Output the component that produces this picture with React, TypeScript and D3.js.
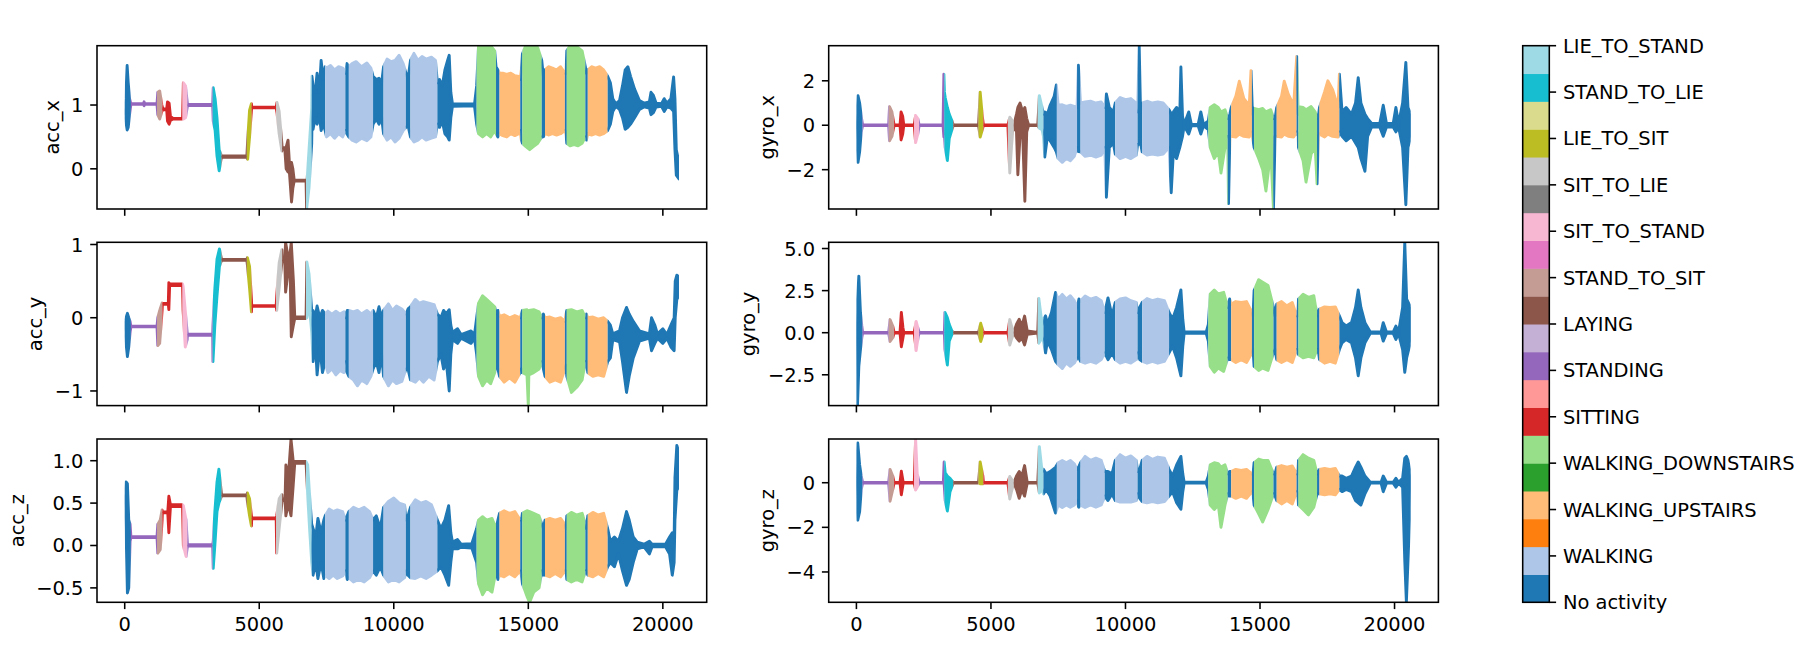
import React from 'react';
import * as d3 from 'd3';

// activity labels, index = label id
const activityNames = [
  'No activity', 'WALKING', 'WALKING_UPSTAIRS', 'WALKING_DOWNSTAIRS', 'SITTING', 'STANDING', 'LAYING',
  'STAND_TO_SIT', 'SIT_TO_STAND', 'SIT_TO_LIE', 'LIE_TO_SIT', 'STAND_TO_LIE', 'LIE_TO_STAND',
];

const tab20 = [
  '#1f77b4', '#aec7e8', '#ff7f0e', '#ffbb78', '#2ca02c', '#98df8a', '#d62728', '#ff9896', '#9467bd', '#c5b0d5',
  '#8c564b', '#c49c94', '#e377c2', '#f7b6d2', '#7f7f7f', '#c7c7c7', '#bcbd22', '#dbdb8d', '#17becf', '#9edae5',
];

// labelled segments of the recording (sample index where each starts)
const segStarts = [0, 230, 1200, 1400, 2150, 2330, 3270, 3600, 4540, 4720, 5630, 5850, 6740, 6950, 7450, 8200, 8330,
  9230, 9620, 10450, 10620, 11620, 13080, 13800, 13930, 14700, 14780, 15500, 15620, 16360, 16430, 17120, 17210, 17950];
const segLabels = [0, 5, 7, 4, 8, 5, 11, 6, 10, 4, 9, 6, 12, 0, 1, 0, 1, 0, 1, 0, 1, 0, 3, 0, 2, 0, 3, 0, 2, 0, 3, 0, 2, 0];
const nSamples = 20600;

// signal envelopes: [sample, low, high]
const accX = [
  [0, 0.86, 0.92], [40, 0.75, 1.1], [90, 0.61, 1.62], [130, 0.65, 1.35], [180, 0.85, 1.1], [230, 1.01, 1.02],
  [700, 1.01, 1.02], [720, 0.99, 1.05], [740, 1.01, 1.02], [1200, 1.01, 1.02], [1230, 0.85, 1.2], [1300, 0.78, 1.22],
  [1380, 0.9, 1.0], [1420, 0.925, 0.94], [1560, 0.925, 0.94], [1590, 0.75, 1.05], [1650, 0.7, 1.03], [1700, 0.76, 0.82],
  [1800, 0.78, 0.79], [2150, 0.78, 0.79], [2180, 0.78, 1.35], [2260, 0.8, 1.3], [2330, 0.99, 1.01], [3270, 0.99, 1.01],
  [3290, 0.75, 1.27], [3360, 0.6, 1.1], [3430, 0.2, 0.8], [3510, -0.03, 0.3], [3580, 0.15, 0.22], [3600, 0.18, 0.2],
  [4540, 0.18, 0.2], [4570, 0.15, 0.45], [4640, 0.5, 0.92], [4710, 0.92, 1.02], [4720, 0.955, 0.965],
  [5630, 0.955, 0.965], [5660, 0.88, 1.04], [5740, 0.55, 0.9], [5840, 0.28, 0.4], [5850, 0.31, 0.33],
  [5950, 0.31, 0.33], [6000, 0.0, 0.34], [6070, -0.05, 0.45], [6120, -0.05, 0.1], [6200, -0.52, 0.1],
  [6250, -0.3, 0.0], [6300, -0.19, -0.18], [6740, -0.19, -0.18], [6760, -0.63, -0.3], [6850, -0.3, 0.3],
  [6950, 0.4, 0.95], [6960, 0.7, 1.45], [7000, 0.62, 1.3], [7080, 0.8, 1.2], [7150, 0.7, 1.5], [7230, 0.85, 1.2],
  [7300, 0.6, 1.7], [7380, 0.7, 1.4], [7450, 0.6, 1.6], [7500, 0.5, 1.58], [7650, 0.55, 1.62], [7800, 0.48, 1.55],
  [7950, 0.55, 1.6], [8100, 0.5, 1.58], [8200, 0.6, 1.5], [8260, 0.55, 1.65], [8330, 0.5, 1.6], [8450, 0.45, 1.65],
  [8600, 0.42, 1.68], [8800, 0.48, 1.6], [9000, 0.44, 1.66], [9150, 0.5, 1.58], [9230, 0.7, 1.45], [9350, 0.78, 1.4],
  [9450, 0.7, 1.42], [9550, 0.8, 1.35], [9620, 0.55, 1.6], [9750, 0.45, 1.72], [9900, 0.5, 1.68], [10050, 0.42, 1.7],
  [10200, 0.48, 1.78], [10350, 0.6, 1.65], [10450, 0.65, 1.5], [10530, 0.68, 1.41], [10620, 0.5, 1.7],
  [10750, 0.42, 1.81], [10900, 0.45, 1.7], [11050, 0.5, 1.76], [11200, 0.45, 1.72], [11400, 0.48, 1.75],
  [11550, 0.5, 1.7], [11620, 0.7, 1.35], [11700, 0.65, 1.4], [11800, 0.75, 1.3], [11900, 0.55, 1.55],
  [12000, 0.5, 1.7], [12060, 0.45, 1.78], [12120, 0.8, 1.2], [12180, 0.98, 1.02], [12600, 0.985, 1.015],
  [13000, 0.985, 1.015], [13080, 0.7, 1.3], [13150, 0.55, 1.93], [13300, 0.5, 1.93], [13450, 0.55, 1.9],
  [13600, 0.5, 1.93], [13750, 0.6, 1.85], [13800, 0.55, 1.6], [13870, 0.5, 1.55], [13930, 0.55, 1.5],
  [14050, 0.52, 1.5], [14200, 0.5, 1.48], [14350, 0.55, 1.5], [14500, 0.52, 1.46], [14650, 0.55, 1.45],
  [14700, 0.6, 1.4], [14740, 0.45, 1.55], [14780, 0.4, 1.8], [14900, 0.35, 1.93], [15050, 0.3, 1.93],
  [15200, 0.35, 1.93], [15350, 0.4, 1.9], [15500, 0.5, 1.7], [15560, 0.5, 1.45], [15620, 0.55, 1.55],
  [15750, 0.53, 1.6], [15900, 0.55, 1.58], [16050, 0.53, 1.55], [16200, 0.55, 1.6], [16360, 0.6, 1.5],
  [16400, 0.55, 1.5], [16430, 0.4, 1.85], [16550, 0.36, 1.93], [16700, 0.38, 1.93], [16850, 0.36, 1.9],
  [17000, 0.4, 1.85], [17120, 0.5, 1.6], [17160, 0.45, 1.5], [17210, 0.55, 1.55], [17350, 0.53, 1.6],
  [17500, 0.55, 1.58], [17650, 0.53, 1.6], [17800, 0.55, 1.55], [17950, 0.6, 1.45], [18050, 0.7, 1.35],
  [18140, 0.9, 1.1], [18250, 0.98, 1.02], [18390, 0.93, 1.07], [18500, 0.8, 1.3], [18600, 0.62, 1.55],
  [18700, 0.65, 1.6], [18800, 0.7, 1.45], [18950, 0.8, 1.25], [19130, 0.93, 1.07], [19300, 0.97, 1.03],
  [19500, 0.95, 1.05], [19560, 0.85, 1.2], [19650, 0.88, 1.15], [19750, 0.97, 1.03], [19950, 0.98, 1.02],
  [20050, 0.9, 1.1], [20150, 0.97, 1.03], [20300, 0.95, 1.1], [20400, 0.9, 1.44], [20450, 0.3, 1.1],
  [20500, -0.1, 0.3], [20600, -0.16, 0.1],
];

const accY = [
  [0, -0.15, -0.05], [50, -0.35, 0.0], [100, -0.53, 0.06], [150, -0.4, 0.0], [200, -0.2, -0.05],
  [230, -0.125, -0.115], [1200, -0.125, -0.115], [1230, -0.38, 0.0], [1300, -0.35, 0.1], [1390, 0.1, 0.2],
  [1400, 0.185, 0.195], [1620, 0.185, 0.195], [1640, 0.11, 0.48], [1670, 0.44, 0.46], [2150, 0.44, 0.46],
  [2170, 0.1, 0.43], [2250, -0.4, 0.1], [2320, -0.3, -0.2], [2330, -0.24, -0.225], [3270, -0.24, -0.225],
  [3280, -0.6, -0.1], [3350, -0.1, 0.4], [3430, 0.3, 0.8], [3520, 0.7, 0.94], [3600, 0.785, 0.795],
  [4540, 0.785, 0.795], [4560, 0.72, 0.82], [4640, 0.4, 0.7], [4710, 0.08, 0.25], [4720, 0.155, 0.165],
  [5630, 0.155, 0.165], [5650, 0.1, 0.3], [5740, 0.4, 0.75], [5840, 0.75, 0.93], [5850, 0.77, 0.79],
  [5950, 0.77, 0.81], [5980, 0.35, 1.03], [6060, 0.6, 0.85], [6150, 0.6, 0.9], [6190, -0.26, 1.03],
  [6270, -0.1, 0.5], [6320, -0.01, 0.01], [6740, -0.01, 0.01], [6770, 0.0, 0.76], [6850, 0.2, 0.6],
  [6950, -0.2, 0.1], [7000, -0.6, 0.1], [7080, -0.3, 0.0], [7150, -0.78, 0.16], [7250, -0.4, 0.0],
  [7350, -0.75, 0.1], [7450, -0.6, 0.05], [7550, -0.75, 0.09], [7700, -0.7, 0.05], [7850, -0.78, 0.09],
  [8000, -0.72, 0.05], [8150, -0.75, 0.08], [8200, -0.6, 0.0], [8270, -0.75, 0.1], [8330, -0.8, 0.1],
  [8500, -0.85, 0.08], [8650, -0.93, 0.1], [8800, -0.85, 0.05], [9000, -0.9, 0.1], [9150, -0.8, 0.05],
  [9230, -0.7, 0.1], [9350, -0.6, 0.0], [9450, -0.75, 0.15], [9550, -0.5, 0.0], [9620, -0.8, 0.1],
  [9800, -0.93, 0.19], [9950, -0.85, 0.1], [10100, -0.9, 0.16], [10300, -0.87, 0.12], [10450, -0.7, 0.05],
  [10530, -0.7, 0.12], [10620, -0.85, 0.15], [10800, -0.88, 0.25], [10950, -0.82, 0.2], [11100, -0.88, 0.22],
  [11300, -0.8, 0.2], [11500, -0.85, 0.18], [11620, -0.6, 0.05], [11750, -0.5, 0.0], [11850, -0.7, 0.1],
  [11950, -0.6, 0.05], [12060, -1.0, 0.11], [12120, -0.5, -0.1], [12180, -0.3, -0.2], [12370, -0.35, -0.15],
  [12500, -0.28, -0.23], [12870, -0.35, -0.18], [13000, -0.28, -0.23], [13080, -0.5, 0.0], [13150, -0.8, 0.2],
  [13300, -0.93, 0.3], [13450, -0.85, 0.25], [13600, -0.9, 0.2], [13750, -0.75, 0.15], [13800, -0.6, 0.05],
  [13870, -0.7, 0.1], [13930, -0.8, 0.02], [14100, -0.88, 0.04], [14300, -0.82, 0.0], [14500, -0.88, 0.03],
  [14700, -0.75, 0.0], [14740, -0.7, 0.05], [14780, -0.75, 0.1], [14950, -0.78, 0.11], [15000, -1.2, 0.05],
  [15020, -0.78, 0.1], [15200, -0.75, 0.11], [15400, -0.7, 0.08], [15500, -0.6, 0.0], [15560, -0.7, 0.05],
  [15620, -0.8, 0.0], [15800, -0.88, 0.01], [16000, -0.85, -0.02], [16200, -0.88, 0.0], [16360, -0.7, -0.05],
  [16400, -0.65, 0.05], [16430, -0.8, 0.1], [16600, -1.02, 0.11], [16800, -0.95, 0.08], [17000, -0.85, 0.1],
  [17120, -0.6, 0.0], [17160, -0.6, 0.05], [17210, -0.75, 0.0], [17400, -0.8, 0.01], [17600, -0.78, -0.02],
  [17800, -0.8, 0.0], [17950, -0.6, -0.05], [18050, -0.55, -0.1], [18140, -0.3, -0.22], [18390, -0.33, -0.18],
  [18500, -0.6, 0.0], [18650, -1.02, 0.14], [18750, -0.8, 0.05], [18900, -0.55, -0.05], [19130, -0.32, -0.18],
  [19500, -0.28, -0.22], [19580, -0.45, 0.0], [19700, -0.35, -0.1], [19800, -0.28, -0.22], [20000, -0.35, -0.15],
  [20150, -0.28, -0.23], [20300, -0.4, -0.1], [20420, -0.45, 0.0], [20460, 0.0, 0.5], [20520, 0.25, 0.58],
  [20600, 0.3, 0.56],
];

const accZ = [
  [0, 0.5, 0.58], [50, 0.2, 0.75], [100, -0.56, 0.73], [150, -0.5, 0.3], [200, 0.05, 0.25], [230, 0.095, 0.105],
  [1200, 0.095, 0.105], [1230, -0.09, 0.25], [1320, -0.05, 0.3], [1390, 0.3, 0.42], [1400, 0.385, 0.395],
  [1600, 0.385, 0.395], [1640, 0.15, 0.58], [1700, 0.46, 0.48], [2150, 0.46, 0.48], [2180, 0.0, 0.47],
  [2280, -0.13, 0.3], [2330, -0.008, 0.008], [3270, -0.008, 0.008], [3290, -0.27, 0.05], [3350, 0.0, 0.4],
  [3430, 0.4, 0.75], [3500, 0.5, 0.9], [3600, 0.585, 0.595], [4540, 0.585, 0.595], [4560, 0.52, 0.62],
  [4640, 0.35, 0.55], [4710, 0.23, 0.35], [4720, 0.315, 0.325], [5630, 0.315, 0.325], [5650, -0.09, 0.35],
  [5740, 0.2, 0.55], [5840, 0.5, 0.6], [5850, 0.53, 0.55], [5960, 0.53, 0.55], [5990, 0.35, 0.95],
  [6080, 0.5, 0.8], [6180, 0.35, 1.256], [6260, 0.7, 1.0], [6320, 0.97, 0.99], [6740, 0.97, 0.99],
  [6800, 0.6, 0.95], [6870, 0.2, 0.6], [6950, -0.2, 0.25], [7000, -0.35, 0.2], [7100, -0.2, 0.1],
  [7180, -0.39, 0.32], [7300, -0.2, 0.15], [7400, -0.39, 0.3], [7450, -0.35, 0.35], [7600, -0.39, 0.43],
  [7750, -0.35, 0.4], [7900, -0.39, 0.42], [8100, -0.36, 0.4], [8200, -0.3, 0.3], [8270, -0.4, 0.35],
  [8330, -0.38, 0.4], [8500, -0.43, 0.45], [8700, -0.4, 0.42], [8900, -0.43, 0.45], [9100, -0.38, 0.4],
  [9230, -0.3, 0.3], [9350, -0.35, 0.35], [9500, -0.25, 0.2], [9620, -0.35, 0.45], [9800, -0.43, 0.52],
  [10000, -0.4, 0.56], [10200, -0.43, 0.5], [10400, -0.38, 0.48], [10450, -0.3, 0.3], [10530, -0.35, 0.35],
  [10620, -0.38, 0.45], [10800, -0.39, 0.54], [11000, -0.36, 0.5], [11200, -0.39, 0.52], [11400, -0.35, 0.48],
  [11620, -0.3, 0.3], [11750, -0.25, 0.2], [11900, -0.35, 0.3], [12040, -0.47, 0.47], [12120, -0.2, 0.15],
  [12180, -0.04, 0.04], [12370, -0.04, 0.07], [12500, -0.02, 0.015], [12900, -0.03, 0.02], [13080, -0.2, 0.2],
  [13150, -0.45, 0.3], [13300, -0.58, 0.34], [13450, -0.5, 0.3], [13650, -0.55, 0.32], [13800, -0.3, 0.2],
  [13870, -0.4, 0.3], [13930, -0.35, 0.38], [14100, -0.37, 0.41], [14300, -0.33, 0.38], [14500, -0.37, 0.4],
  [14700, -0.3, 0.3], [14740, -0.35, 0.3], [14780, -0.45, 0.38], [14950, -0.6, 0.41], [15050, -0.67, 0.4],
  [15200, -0.55, 0.38], [15400, -0.5, 0.35], [15500, -0.3, 0.25], [15560, -0.35, 0.2], [15620, -0.35, 0.3],
  [15800, -0.37, 0.32], [16000, -0.33, 0.3], [16200, -0.37, 0.32], [16360, -0.3, 0.25], [16400, -0.3, 0.2],
  [16430, -0.4, 0.35], [16600, -0.43, 0.39], [16800, -0.4, 0.36], [17000, -0.43, 0.38], [17120, -0.3, 0.25],
  [17160, -0.3, 0.2], [17210, -0.35, 0.35], [17400, -0.37, 0.39], [17600, -0.33, 0.36], [17800, -0.37, 0.38],
  [17950, -0.25, 0.2], [18050, -0.2, 0.05], [18200, -0.25, 0.1], [18350, -0.1, 0.05], [18500, -0.3, 0.2],
  [18650, -0.47, 0.4], [18750, -0.4, 0.3], [18900, -0.2, 0.1], [19050, -0.04, 0.04], [19300, -0.015, 0.015],
  [19500, -0.1, 0.05], [19600, -0.015, 0.015], [20100, -0.015, 0.015], [20250, -0.1, 0.1], [20350, -0.35, 0.15],
  [20420, -0.2, 0.1], [20450, 0.3, 0.8], [20520, 0.65, 1.18], [20600, 0.7, 1.1],
];

const gyroX = [
  [0, -0.1, 0.1], [60, -1.67, 1.33], [120, -1.2, 1.0], [180, -0.3, 0.4], [230, -0.01, 0.01], [1200, -0.01, 0.01],
  [1230, -0.7, 0.84], [1320, -0.5, 0.6], [1400, -0.01, 0.01], [1620, -0.01, 0.01], [1660, -0.66, 0.6],
  [1720, -0.4, 0.4], [1760, -0.01, 0.01], [2150, -0.01, 0.01], [2200, -0.78, 0.44], [2280, -0.4, 0.3],
  [2330, -0.01, 0.01], [3220, -0.01, 0.01], [3250, -0.53, 2.3], [3270, -0.4, 1.5], [3300, -1.0, 1.25],
  [3380, -1.59, 0.8], [3450, -0.6, 0.5], [3550, -0.2, 0.2], [3600, -0.01, 0.01], [4540, -0.01, 0.01],
  [4600, -0.53, 1.49], [4680, -0.2, 0.4], [4720, -0.01, 0.01], [5630, -0.01, 0.01], [5700, -2.15, 0.36],
  [5800, -0.3, 0.2], [5850, -0.01, 0.01], [5950, -0.3, 0.5], [6000, -2.23, 0.8], [6080, -0.5, 1.0],
  [6180, -0.4, 0.6], [6260, -3.42, 0.8], [6330, -0.3, 0.3], [6400, -0.01, 0.01], [6740, -0.01, 0.01],
  [6800, -0.13, 1.33], [6900, -0.2, 0.8], [6950, -0.5, 0.5], [7000, -1.43, 0.6], [7100, -0.5, 0.5],
  [7200, -0.7, 0.9], [7350, -1.0, 1.3], [7430, -1.2, 1.81], [7500, -1.5, 0.9], [7650, -1.67, 0.92],
  [7800, -1.5, 0.85], [7950, -1.6, 0.9], [8100, -1.4, 0.85], [8200, -1.0, 0.8], [8250, -1.18, 2.7],
  [8330, -1.2, 1.0], [8500, -1.4, 1.05], [8700, -1.35, 1.08], [8900, -1.43, 1.0], [9100, -1.35, 1.05],
  [9230, -1.0, 0.8], [9290, -3.24, 1.41], [9400, -1.0, 0.8], [9550, -0.8, 0.6], [9620, -1.3, 1.0],
  [9800, -1.5, 1.25], [10000, -1.4, 1.15], [10200, -1.5, 1.2], [10400, -1.35, 1.0], [10450, -0.86, 0.6],
  [10510, -0.86, 3.58], [10560, -0.8, 0.6], [10620, -1.2, 1.0], [10800, -1.34, 1.08], [11000, -1.3, 1.0],
  [11200, -1.34, 1.05], [11400, -1.3, 1.0], [11620, -1.0, 0.7], [11700, -3.04, 0.5], [11780, -1.2, 0.6],
  [11900, -1.5, 0.8], [12020, -1.0, 0.6], [12060, -0.8, 2.62], [12120, -0.5, 0.4], [12180, -0.03, 0.03],
  [12350, -0.4, 0.6], [12450, -0.03, 0.03], [12700, -0.03, 0.03], [12800, -0.4, 0.6], [12900, -0.03, 0.03],
  [13080, -0.2, 0.2], [13150, -1.0, 0.8], [13300, -1.5, 0.92], [13450, -1.2, 0.8], [13550, -2.15, 0.6],
  [13700, -1.0, 0.7], [13800, -0.5, 0.3], [13830, -3.53, 0.3], [13880, -0.5, 0.5], [13930, -0.5, 0.8],
  [14100, -0.53, 1.3], [14230, -0.4, 1.98], [14400, -0.5, 1.2], [14600, -0.53, 0.9], [14665, -0.3, 2.46],
  [14720, -0.5, 0.5], [14780, -1.0, 0.76], [14950, -1.5, 0.7], [15100, -2.0, 0.76], [15220, -2.96, 0.6],
  [15400, -1.2, 0.7], [15500, -3.77, 0.3], [15560, -0.5, 0.3], [15620, -0.5, 0.8], [15800, -0.53, 1.3],
  [15900, -0.4, 1.98], [16050, -0.5, 1.4], [16250, -0.53, 0.9], [16365, -0.3, 3.1], [16420, -0.5, 0.5],
  [16430, -1.0, 0.84], [16600, -1.6, 0.8], [16710, -2.56, 0.7], [16900, -1.3, 0.84], [17050, -1.0, 0.6],
  [17120, -2.64, 0.3], [17170, -0.5, 0.4], [17210, -0.4, 0.8], [17400, -0.53, 1.5], [17520, -0.4, 2.0],
  [17700, -0.5, 1.6], [17900, -0.53, 0.8], [17950, -0.3, 2.3], [18050, -0.5, 0.6], [18200, -0.7, 0.8],
  [18400, -0.5, 0.5], [18550, -0.8, 1.0], [18650, -1.0, 2.14], [18750, -1.5, 1.0], [18900, -2.07, 0.5],
  [19000, -0.5, 0.3], [19150, -0.08, 0.08], [19450, -0.08, 0.08], [19580, -0.5, 0.9], [19700, -0.08, 0.08],
  [19950, -0.08, 0.08], [20050, -0.3, 0.8], [20150, -0.08, 0.08], [20300, -1.0, 1.0], [20420, -3.58, 2.83],
  [20500, -1.0, 0.8], [20600, -0.5, 0.5],
];

const gyroY = [
  [0, -0.5, 0.5], [40, -4.33, 2.0], [90, -2.0, 3.36], [150, -1.0, 1.2], [200, -0.3, 0.4], [230, -0.02, 0.02],
  [1200, -0.02, 0.02], [1250, -0.52, 0.78], [1350, -0.3, 0.4], [1400, -0.02, 0.02], [1620, -0.02, 0.02],
  [1670, -0.84, 1.21], [1730, -0.3, 0.3], [1760, -0.02, 0.02], [2150, -0.02, 0.02], [2220, -1.06, 0.67],
  [2300, -0.2, 0.2], [2330, -0.02, 0.02], [3270, -0.02, 0.02], [3290, -1.0, 1.21], [3380, -1.92, 0.9],
  [3450, -0.5, 0.5], [3550, -0.1, 0.1], [3600, -0.02, 0.02], [4540, -0.02, 0.02], [4620, -0.52, 0.56],
  [4700, -0.1, 0.1], [4720, -0.02, 0.02], [5630, -0.02, 0.02], [5700, -0.73, 0.78], [5800, -0.2, 0.2],
  [5850, -0.02, 0.02], [5950, -0.3, 0.5], [6050, -0.5, 0.8], [6150, -0.3, 0.4], [6250, -0.73, 0.99],
  [6350, -0.1, 0.1], [6740, -0.02, 0.02], [6780, -0.62, 2.03], [6900, -0.3, 0.5], [6950, -0.5, 0.8],
  [7030, -1.2, 1.0], [7100, -0.5, 0.5], [7250, -1.0, 1.2], [7400, -1.7, 2.39], [7500, -1.9, 2.0],
  [7650, -2.13, 2.28], [7800, -1.8, 2.0], [7950, -2.0, 2.2], [8100, -1.8, 1.9], [8200, -1.5, 1.5],
  [8270, -1.5, 2.0], [8330, -1.7, 1.9], [8500, -1.81, 2.18], [8700, -1.7, 2.0], [8900, -1.81, 2.1],
  [9100, -1.6, 1.9], [9230, -1.2, 1.2], [9350, -1.6, 2.07], [9500, -1.2, 1.0], [9620, -1.6, 1.8],
  [9800, -1.81, 2.0], [10000, -1.7, 2.07], [10200, -1.8, 1.9], [10400, -1.6, 1.8], [10450, -1.2, 1.2],
  [10530, -1.6, 1.5], [10620, -1.7, 1.8], [10800, -1.81, 2.03], [11000, -1.7, 1.9], [11200, -1.81, 2.0],
  [11450, -1.7, 1.9], [11620, -1.2, 1.2], [11750, -0.8, 0.8], [11900, -1.5, 1.5], [12060, -2.56, 2.54],
  [12130, -0.8, 0.8], [12180, -0.04, 0.04], [13000, -0.04, 0.04], [13080, -0.5, 0.5], [13150, -2.0, 2.3],
  [13300, -2.35, 2.54], [13450, -2.1, 2.3], [13650, -2.3, 2.4], [13800, -1.5, 1.5], [13870, -1.6, 2.0],
  [13930, -1.6, 1.7], [14100, -1.77, 1.85], [14300, -1.6, 1.8], [14500, -1.77, 1.85], [14700, -1.2, 1.2],
  [14740, -1.0, 1.0], [14780, -2.0, 2.5], [14950, -2.24, 3.15], [15100, -2.1, 3.0], [15300, -2.24, 2.8],
  [15500, -1.2, 1.5], [15560, -1.0, 1.0], [15620, -1.6, 1.7], [15800, -1.77, 1.85], [16000, -1.6, 1.6],
  [16200, -1.77, 1.8], [16360, -1.0, 1.0], [16400, -1.0, 1.0], [16430, -1.3, 2.0], [16600, -1.49, 2.28],
  [16800, -1.4, 2.1], [17000, -1.49, 2.2], [17120, -1.0, 1.0], [17160, -1.0, 1.2], [17210, -1.6, 1.4],
  [17400, -1.81, 1.53], [17600, -1.7, 1.5], [17800, -1.81, 1.53], [17950, -1.0, 1.0], [18050, -0.6, 0.6],
  [18200, -0.4, 0.4], [18400, -0.6, 0.6], [18550, -1.5, 1.5], [18650, -2.56, 2.54], [18750, -1.5, 1.5],
  [18900, -0.6, 0.6], [19100, -0.04, 0.04], [19500, -0.04, 0.04], [19580, -0.5, 0.6], [19700, -0.04, 0.04],
  [19950, -0.04, 0.04], [20050, -0.4, 0.4], [20150, -0.04, 0.04], [20300, -1.0, 1.5], [20380, -2.35, 5.37],
  [20450, -1.5, 2.0], [20600, -0.5, 1.5],
];

const gyroZ = [
  [0, -0.1, 0.2], [50, -1.68, 1.78], [120, -1.3, 0.8], [180, -0.3, 0.3], [230, -0.01, 0.01], [1200, -0.01, 0.01],
  [1250, -0.83, 0.6], [1350, -0.3, 0.3], [1400, -0.01, 0.01], [1620, -0.01, 0.01], [1670, -0.54, 0.52],
  [1740, -0.01, 0.01], [2150, -0.01, 0.01], [2200, -0.33, 1.96], [2260, -0.2, 0.4], [2330, -0.01, 0.01],
  [3230, -0.01, 0.01], [3260, -0.05, 0.93], [3300, -0.8, 0.44], [3380, -1.27, 0.3], [3480, -0.4, 0.2],
  [3600, -0.01, 0.01], [4540, -0.01, 0.01], [4600, -0.05, 0.93], [4700, -0.05, 0.3], [4720, -0.01, 0.01],
  [5630, -0.01, 0.01], [5700, -0.73, 0.28], [5800, -0.2, 0.1], [5850, -0.01, 0.01], [5950, -0.3, 0.3],
  [6050, -0.7, 0.5], [6150, -0.3, 0.3], [6250, -0.6, 0.77], [6350, -0.01, 0.01], [6740, -0.01, 0.01],
  [6800, -0.46, 1.62], [6900, -0.3, 0.5], [6950, -0.5, 0.6], [7050, -0.3, 0.4], [7200, -0.6, 0.5],
  [7400, -1.36, 0.69], [7500, -1.0, 0.9], [7650, -1.11, 1.0], [7800, -1.0, 0.9], [7950, -1.1, 1.0],
  [8100, -1.0, 0.85], [8200, -0.8, 0.6], [8260, -1.1, 0.7], [8330, -1.0, 0.9], [8500, -1.11, 1.18],
  [8700, -1.0, 1.0], [8900, -1.1, 1.1], [9100, -1.0, 1.0], [9230, -0.6, 0.5], [9350, -0.8, 0.5],
  [9500, -0.5, 0.4], [9620, -0.8, 1.0], [9800, -0.87, 1.26], [10000, -0.85, 1.1], [10200, -0.87, 1.2],
  [10400, -0.8, 1.0], [10450, -0.5, 0.5], [10530, -0.7, 0.6], [10620, -0.85, 1.0], [10800, -0.9, 1.18],
  [11000, -0.85, 1.05], [11200, -0.9, 1.15], [11450, -0.85, 1.1], [11620, -0.6, 0.6], [11750, -0.4, 0.3],
  [11900, -0.9, 0.8], [12060, -1.19, 1.18], [12130, -0.4, 0.4], [12180, -0.02, 0.02], [13000, -0.02, 0.02],
  [13080, -0.3, 0.3], [13150, -1.0, 0.8], [13300, -1.2, 0.9], [13450, -1.0, 0.85], [13550, -2.0, 0.7],
  [13700, -1.0, 0.8], [13800, -0.5, 0.4], [13870, -0.6, 0.5], [13930, -0.6, 0.5], [14100, -0.7, 0.6],
  [14300, -0.6, 0.55], [14500, -0.7, 0.6], [14700, -0.4, 0.4], [14740, -0.5, 0.4], [14780, -1.0, 0.9],
  [14950, -1.4, 1.06], [15100, -1.76, 1.0], [15300, -1.2, 1.0], [15500, -0.5, 0.4], [15560, -0.6, 0.4],
  [15620, -0.8, 0.7], [15800, -0.95, 0.77], [16000, -0.8, 0.7], [16200, -0.95, 0.75], [16360, -0.4, 0.4],
  [16400, -0.5, 0.4], [16430, -1.0, 1.0], [16600, -1.2, 1.26], [16800, -1.44, 1.1], [17000, -1.1, 1.0],
  [17120, -0.5, 0.4], [17160, -0.5, 0.4], [17210, -0.5, 0.6], [17400, -0.54, 0.64], [17600, -0.5, 0.6],
  [17800, -0.54, 0.64], [17950, -0.3, 0.3], [18050, -0.4, 0.3], [18200, -0.3, 0.2], [18400, -0.4, 0.3],
  [18550, -0.8, 0.7], [18650, -0.9, 0.93], [18750, -1.0, 0.7], [18900, -0.5, 0.3], [19100, -0.02, 0.02],
  [19500, -0.02, 0.02], [19580, -0.4, 0.3], [19700, -0.02, 0.02], [19950, -0.02, 0.02], [20050, -0.2, 0.2],
  [20150, -0.02, 0.02], [20300, -0.2, 0.2], [20380, -3.5, 1.1], [20440, -5.36, 1.18], [20500, -3.5, 1.0],
  [20600, -0.3, 0.3],
];

const panelNames = ['acc_x', 'acc_y', 'acc_z', 'gyro_x', 'gyro_y', 'gyro_z'];
const panelData = [accX, accY, accZ, gyroX, gyroY, gyroZ];
const panelYLim = [[-0.63, 1.93], [-1.2, 1.03], [-0.67, 1.256], [-3.77, 3.58], [-4.33, 5.37], [-5.36, 1.96]];
const panelYTicks = [[0, 1], [-1, 0, 1], [-0.5, 0, 0.5, 1], [-2, 0, 2], [-2.5, 0, 2.5, 5], [-4, -2, 0]];
const panelDecimals = [0, 0, 1, 0, 1, 0];
const xTicks = [0, 5000, 10000, 15000, 20000];

// layout (px), matplotlib-ish at ~140 dpi
const FS = 19.44;
const TICK = 6.8;
const PAD = 6.8;
const LW = 2.9;
const SPINE = 1.56;
const colX = [97, 828.7];
const colW = 609.7;
const rowY = [45.7, 242.3, 439];
const rowH = 163.3;
const cbX = 1522.7, cbW = 26.6, cbY = 45.7, cbH = 556.6;

const fmt = (v: number, dec: number) => (v < 0 ? '\u2212' : '') + Math.abs(v).toFixed(dec);
const textWidth = (s: string) =>
  s.split('').reduce((w, c) => w + (c === '\u2212' ? 0.838 : c === '.' ? 0.318 : 0.636), 0) * FS;
const activityColor = (i: number) => tab20[Math.min(19, Math.floor((i * 20) / 12))];

const Panel: React.FC<{ idx: number }> = ({ idx }) => {
  const col = idx < 3 ? 0 : 1;
  const row = idx % 3;
  const left = colX[col];
  const top = rowY[row];
  const data = panelData[idx];
  const dec = panelDecimals[idx];

  const x = d3.scaleLinear().domain([-0.05 * nSamples, 1.05 * nSamples]).range([0, colW]);
  const y = d3.scaleLinear().domain(panelYLim[idx]).range([rowH, 0]);
  const area = d3.area<number[]>()
    .x(d => x(d[0]))
    .y0(d => y(d[1]))
    .y1(d => y(d[2]));
  const pathD = area(data) || '';

  const tickLabels = panelYTicks[idx].map(v => fmt(v, dec));
  const maxW = Math.max(...tickLabels.map(textWidth));
  const labelX = -TICK - PAD - maxW - 7.8 - 4.6;

  return (
    <g transform={`translate(${left},${top})`}>
      <defs>
        {segStarts.map((s, j) => {
          const e = j + 1 < segStarts.length ? segStarts[j + 1] : nSamples;
          return (
            <clipPath key={j} id={`clip-${idx}-${j}`}>
              <rect x={x(s)} y={0} width={x(e) - x(s)} height={rowH} />
            </clipPath>
          );
        })}
      </defs>
      {segStarts.map((s, j) => {
        const c = activityColor(segLabels[j]);
        return (
          <path key={j} d={pathD} fill={c} stroke={c} strokeWidth={LW} strokeLinejoin="round"
            clipPath={`url(#clip-${idx}-${j})`} />
        );
      })}
      <rect x={0} y={0} width={colW} height={rowH} fill="none" stroke="#000" strokeWidth={SPINE} />
      {xTicks.map(t => (
        <g key={t}>
          <line x1={x(t)} x2={x(t)} y1={rowH} y2={rowH + TICK} stroke="#000" strokeWidth={SPINE} />
          {row === 2 && (
            <text x={x(t)} y={rowH + TICK + PAD + 0.76 * FS} textAnchor="middle" fontSize={FS}>{t}</text>
          )}
        </g>
      ))}
      {panelYTicks[idx].map((v, k) => (
        <g key={k}>
          <line x1={-TICK} x2={0} y1={y(v)} y2={y(v)} stroke="#000" strokeWidth={SPINE} />
          <text x={-TICK - PAD} y={y(v) + 0.36 * FS} textAnchor="end" fontSize={FS}>{tickLabels[k]}</text>
        </g>
      ))}
      <text transform={`translate(${labelX},${rowH / 2}) rotate(-90)`} textAnchor="middle" fontSize={FS}>
        {panelNames[idx]}
      </text>
    </g>
  );
};

const Colorbar: React.FC = () => {
  const yc = d3.scaleLinear().domain([0, activityNames.length - 1]).range([cbY + cbH, cbY]);
  const band = cbH / tab20.length;
  return (
    <g>
      {tab20.map((c, k) => (
        <rect key={k} x={cbX} y={cbY + cbH - (k + 1) * band} width={cbW} height={band + 0.5} fill={c} />
      ))}
      <rect x={cbX} y={cbY} width={cbW} height={cbH} fill="none" stroke="#000" strokeWidth={SPINE} />
      {activityNames.map((name, i) => (
        <g key={name}>
          <line x1={cbX + cbW} x2={cbX + cbW + TICK} y1={yc(i)} y2={yc(i)} stroke="#000" strokeWidth={SPINE} />
          <text x={cbX + cbW + TICK + PAD} y={yc(i) + 0.36 * FS} fontSize={FS}>{name}</text>
        </g>
      ))}
    </g>
  );
};

const App: React.FC = () => {
  return (
    <svg width={1806} height={661} viewBox="0 0 1806 661"
      style={{ position: 'absolute', left: 0, top: 0, background: '#fff' }}
      fontFamily="'DejaVu Sans', sans-serif" fill="#000">
      {panelNames.map((_, i) => <Panel key={i} idx={i} />)}
      <Colorbar />
    </svg>
  );
};

export default App;
